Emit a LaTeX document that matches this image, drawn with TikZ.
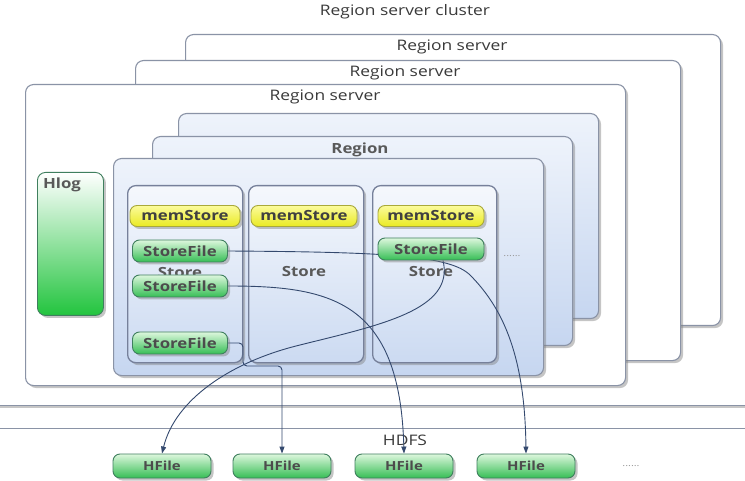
\documentclass[tikz,border=0pt]{standalone}
\usepackage{fontspec}
\setmainfont{Open Sans}[FakeStretch=1.2]
\usetikzlibrary{shadows,arrows.meta}
\pgfdeclarelayer{bg}
\pgfdeclarelayer{fg}
\pgfsetlayers{bg,main,fg}
\definecolor{edgec}{HTML}{8A93A6}
\definecolor{storeedge}{HTML}{76809A}
\definecolor{bluetop}{HTML}{EEF3FB}
\definecolor{bluebot}{HTML}{C6D6F0}
\definecolor{yeltop}{HTML}{FBFB9C}
\definecolor{yelbot}{HTML}{EAEA22}
\definecolor{yeledge}{HTML}{A9A93A}
\definecolor{grtop}{HTML}{DDF7DD}
\definecolor{grbot}{HTML}{36BE55}
\definecolor{gredge}{HTML}{3F7F5E}
\definecolor{hlogbot}{HTML}{22C43E}
\definecolor{linec}{HTML}{34496E}
\definecolor{txt}{HTML}{3A3A3A}
\begin{document}
\begin{tikzpicture}[x=1pt,y=-1pt,
  shad/.style={drop shadow={shadow xshift=2.5pt,shadow yshift=-2.5pt,fill=black!50,opacity=0.45}},
  bigbox/.style={draw=edgec,line width=1.1pt,fill=white,shad,anchor=north west,inner sep=0pt},
  rsbox/.style={bigbox,rounded corners=8pt},
  regionbox/.style={draw=edgec,line width=1.1pt,top color=bluetop,bottom color=bluebot,rounded corners=8pt,shad,anchor=north west,inner sep=0pt},
  storebox/.style={draw=storeedge,line width=1.3pt,top color=bluetop!60!white,bottom color=bluebot!90!white,rounded corners=8pt,shad,anchor=north west,inner sep=0pt},
  title/.style={font=\fontsize{14.5}{16}\selectfont,text=txt},
  btitle/.style={font=\fontsize{14}{16}\selectfont\bfseries,text=black!65},
  memstore/.style={draw=yeledge,line width=0.9pt,top color=yeltop,bottom color=yelbot,rounded corners=7pt,minimum width=106pt,minimum height=21pt,inner sep=0pt,font=\fontsize{14}{16}\selectfont\bfseries,text=black!75,shad},
  storefile/.style={draw=gredge,line width=0.9pt,top color=grtop,bottom color=grbot,rounded corners=7pt,minimum width=95pt,minimum height=22pt,inner sep=0pt,font=\fontsize{14}{16}\selectfont\bfseries,text=black!70,shad},
  hfile/.style={storefile,minimum width=98pt,minimum height=24pt,font=\fontsize{12.5}{14}\selectfont\bfseries},
  hlogbox/.style={draw=gredge,line width=0.9pt,top color=white,bottom color=hlogbot,rounded corners=8pt,anchor=north west,inner sep=0pt,shad},
  conn/.style={draw=linec,line width=0.9pt,-{Triangle[length=7pt,width=5pt]}},
  dots/.style={font=\fontsize{9}{10}\selectfont,text=black!40}
]
\useasboundingbox (0,0) rectangle (745,481);
\begin{pgfonlayer}{bg}
% cluster and HDFS
\node[bigbox,minimum width=770pt,minimum height=420pt] (cluster) at (-12,-15) {};
\node[title] (clustertitle) at (405,12) {Region server cluster};
\node[bigbox,minimum width=770pt,minimum height=80pt] (hdfs) at (-12,428) {};
\node[title] (hdfstitle) at (405,440) {HDFS};
% region servers
\node[rsbox,minimum width=535pt,minimum height=291pt] (rs3) at (185,34) {};
\node[title] (rs3t) at (452,47) {Region server};
\node[rsbox,minimum width=545pt,minimum height=300pt] (rs2) at (135,60) {};
\node[title] (rs2t) at (405,73) {Region server};
\node[rsbox,minimum width=600pt,minimum height=301pt] (rs1) at (25,84) {};
\node[title] (rs1t) at (325,97) {Region server};
% regions
\node[regionbox,minimum width=420pt,minimum height=205pt] (reg3) at (178,113) {};
\node[regionbox,minimum width=420pt,minimum height=209pt] (reg2) at (152,136) {};
\node[btitle] (reg2t) at (360,150) {Region};
\node[regionbox,minimum width=430pt,minimum height=217pt] (reg1) at (113,158) {};
% Hlog
\node[hlogbox,minimum width=66pt,minimum height=143pt] (hlog) at (37,172) {};
\node[btitle] (hlogt) at (62,185) {Hlog};
% stores
\node[storebox,minimum width=115pt,minimum height=177pt] (st1) at (127,185) {};
\node[storebox,minimum width=115pt,minimum height=177pt] (st2) at (248,185) {};
\node[storebox,minimum width=124pt,minimum height=177pt] (st3) at (372,185) {};
\node[btitle] (st1t) at (180,273) {Store};
\node[btitle] (st2t) at (304,272) {Store};
\node[btitle] (st3t) at (431,272) {Store};
\node[dots] (dots1) at (512,256) {......};
\node[dots] (dots2) at (631,466) {......};
\end{pgfonlayer}
\begin{pgfonlayer}{fg}
% memstores
\node[memstore,minimum width=110pt] (ms1) at (185,216) {memStore};
\node[memstore] (ms2) at (304,216) {memStore};
\node[memstore] (ms3) at (431,216) {memStore};
% storefiles
\node[storefile] (sf1) at (180,251) {StoreFile};
\node[storefile] (sf2) at (180,286) {StoreFile};
\node[storefile] (sf3) at (180,343) {StoreFile};
\node[storefile,minimum width=106pt] (sf4) at (431,249) {StoreFile};
% HFiles
\node[hfile] (hf1) at (162,466) {HFile};
\node[hfile] (hf2) at (282,466) {HFile};
\node[hfile] (hf3) at (404,466) {HFile};
\node[hfile] (hf4) at (526,466) {HFile};
\end{pgfonlayer}
% connectors
\draw[conn] (sf1.east) .. controls (380,252) and (450,255) .. (470,275) .. controls (505,310) and (525,360) .. (hf4.north);
\draw[conn] (sf2.east) .. controls (330,286) and (400,300) .. (hf3.north);
\draw[conn,rounded corners=4pt] (sf3.east) -- (243,343) -- (243,366) -- (282,366) -- (hf2.north);
\draw[conn] ([xshift=12pt]sf4.south) .. controls (455,310) and (380,325) .. (300,345) .. controls (230,362) and (175,400) .. (hf1.north);
\end{tikzpicture}
\end{document}
